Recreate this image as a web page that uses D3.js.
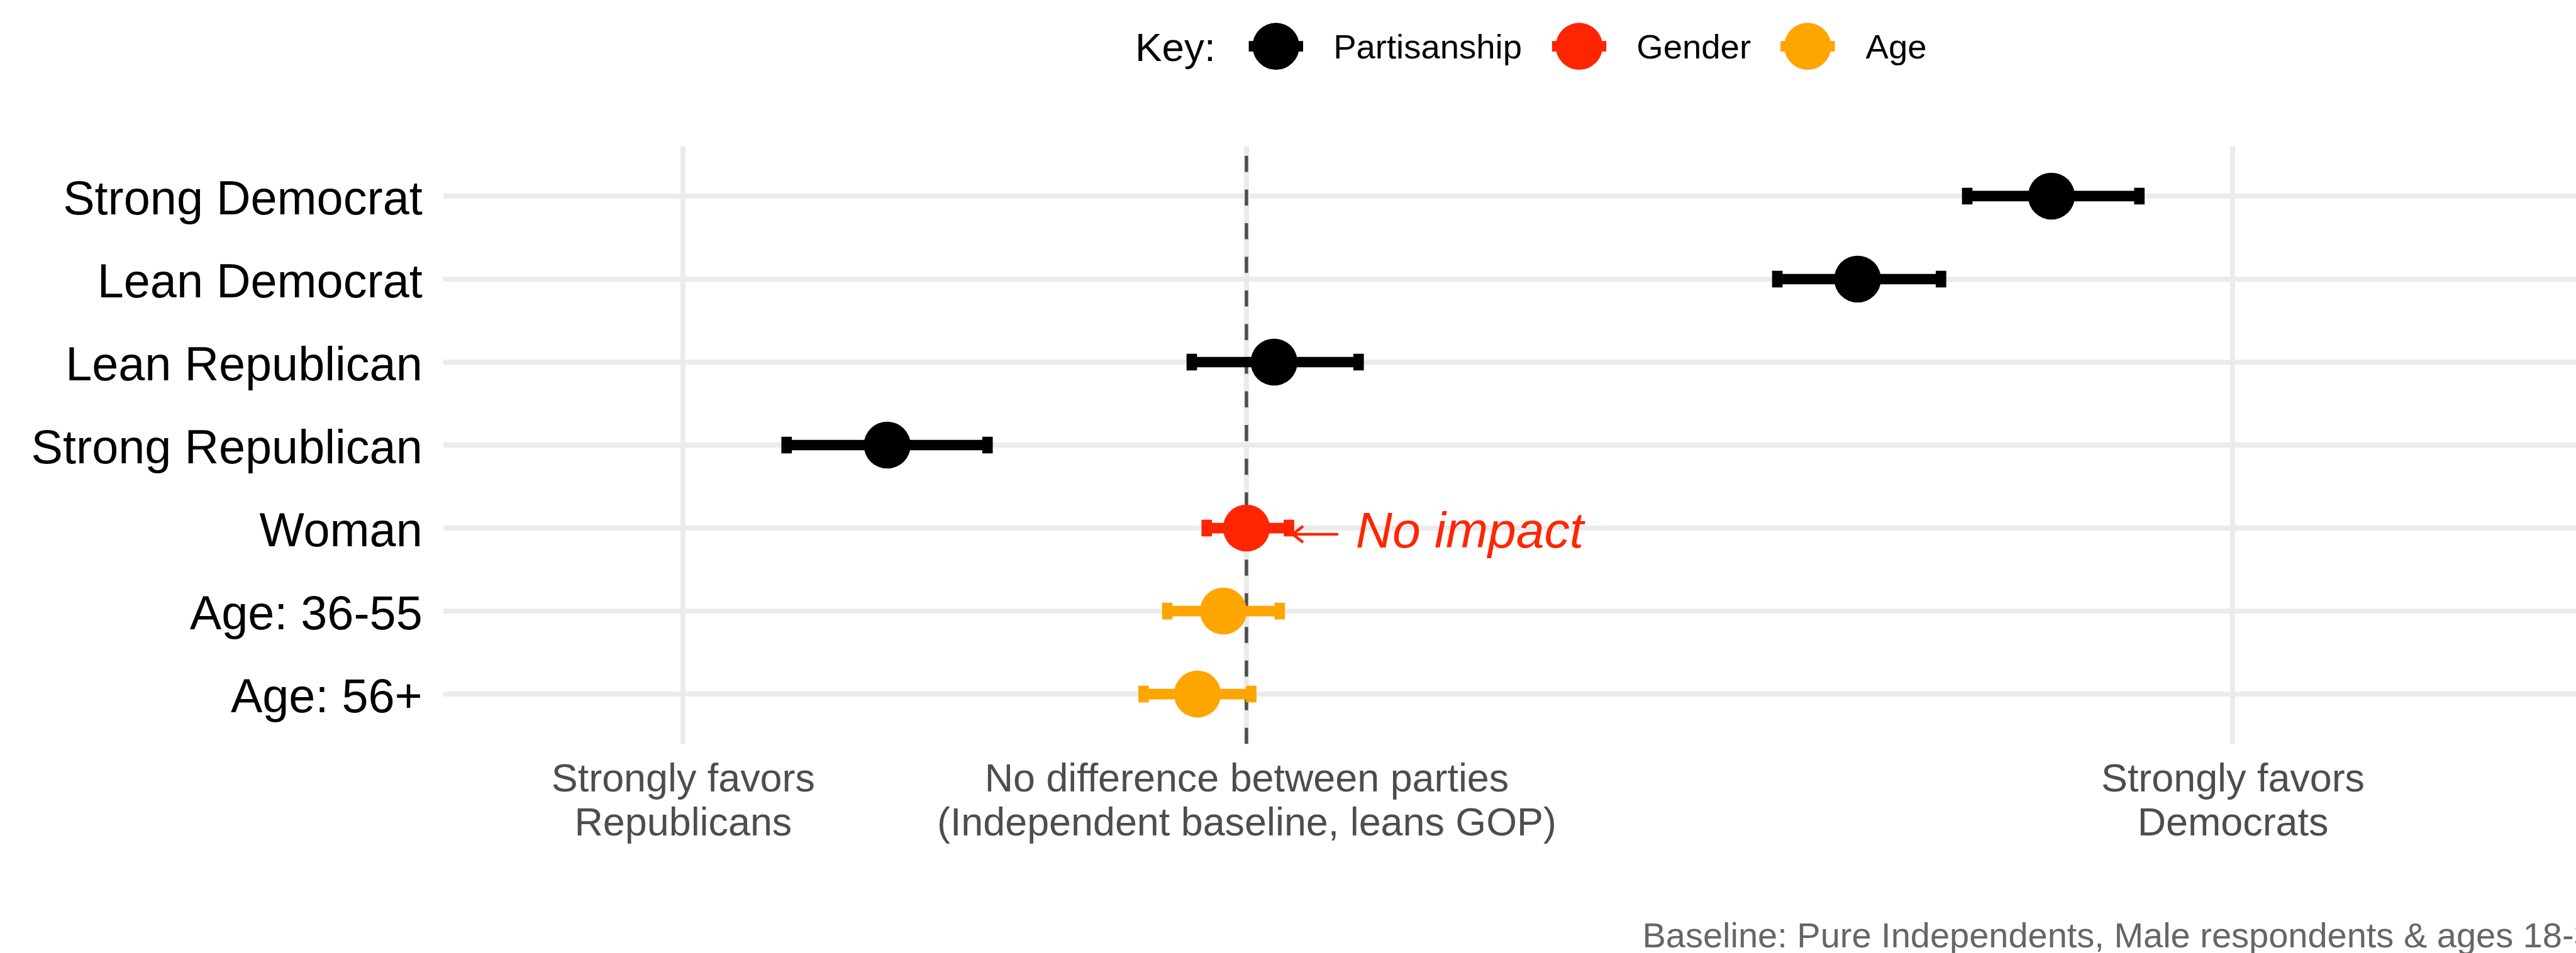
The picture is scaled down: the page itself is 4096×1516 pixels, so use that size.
<!DOCTYPE html>
<html><head><meta charset="utf-8">
<script src="https://cdn.jsdelivr.net/npm/d3@7"></script>
<style>html,body{margin:0;padding:0;background:#fff;overflow:hidden}</style>
</head><body><svg id="chart" width="4096" height="1516"></svg>
<script>
// ---- data ----
const categories = ["Strong Democrat","Lean Democrat","Lean Republican","Strong Republican","Woman","Age: 36-55","Age: 56+"];
const groups = ["Partisanship","Partisanship","Partisanship","Partisanship","Gender","Age","Age"];
const estimates = [2.857, 2.169, 0.098, -1.275, 0.0, -0.082, -0.174];
const lowerCI = [2.558, 1.884, -0.194, -1.632, -0.141, -0.281, -0.365];
const upperCI = [3.169, 2.465, 0.398, -0.919, 0.151, 0.118, 0.017];
const legendKeys = ["Partisanship","Gender","Age"];
const legendColors = ["#000000","#FF2500","#FFA500"];
const xTickValues = [-2, 0, 3.5];
const xTickLabels = [["Strongly favors","Republicans"],["No difference between parties","(Independent baseline, leans GOP)"],["Strongly favors","Democrats"]];
const xLimits = [-2.5, 4.5];
const baselineValue = 0;
const annotationLabels = ["No impact"];
const annotationRows = ["Woman"];
const annotationTextX = [0.388];
const annotationArrowFrom = [0.326];
const annotationArrowTo = [0.164];
const legendTitle = "Key:";
const captionText = "Baseline: Pure Independents, Male respondents & ages 18-35";

// ---- layout (reference pixel units, scaled to window) ----
const S = 0.982;
const FONT = "'Liberation Sans', Arial, Helvetica, sans-serif";
const panel = {left: 718, right: 4231, top: 237, bottom: 1205};
const colorOf = d3.scaleOrdinal().domain(legendKeys).range(legendColors);

const svg = d3.select("#chart");
svg.append("rect").attr("width",4096).attr("height",1516).attr("fill","#fff");
const g = svg.append("g").attr("transform", `scale(${S})`);

const ext = (xLimits[1]-xLimits[0])*0.05;
const x = d3.scaleLinear().domain([xLimits[0]-ext, xLimits[1]+ext]).range([panel.left, panel.right]);
const y = d3.scalePoint().domain(categories).range([panel.top, panel.bottom]).padding(0.6);

const rows = categories.map((c,i)=>({cat:c, group:groups[i], est:estimates[i], lo:lowerCI[i], hi:upperCI[i]}));

// gridlines
g.append("g").selectAll("line").data(categories).join("line")
  .attr("x1", panel.left).attr("x2", panel.right)
  .attr("y1", d=>y(d)).attr("y2", d=>y(d))
  .attr("stroke","#EBEBEB").attr("stroke-width",8);
g.append("g").selectAll("line").data(xTickValues).join("line")
  .attr("x1", d=>x(d)).attr("x2", d=>x(d))
  .attr("y1", panel.top).attr("y2", panel.bottom)
  .attr("stroke","#EBEBEB").attr("stroke-width",8);

// baseline dashed line (drawn bottom to top)
g.append("line")
  .attr("x1", x(baselineValue)).attr("x2", x(baselineValue))
  .attr("y1", panel.bottom).attr("y2", panel.top)
  .attr("stroke","#4D4D4D").attr("stroke-width",5.5)
  .attr("stroke-dasharray","26,28.5");

// error bars
const eb = g.append("g").selectAll("g").data(rows).join("g");
eb.append("line")
  .attr("x1", d=>x(d.lo)).attr("x2", d=>x(d.hi))
  .attr("y1", d=>y(d.cat)).attr("y2", d=>y(d.cat))
  .attr("stroke", d=>colorOf(d.group)).attr("stroke-width",17);
eb.append("line")
  .attr("x1", d=>x(d.lo)).attr("x2", d=>x(d.lo))
  .attr("y1", d=>y(d.cat)-13.5).attr("y2", d=>y(d.cat)+13.5)
  .attr("stroke", d=>colorOf(d.group)).attr("stroke-width",17);
eb.append("line")
  .attr("x1", d=>x(d.hi)).attr("x2", d=>x(d.hi))
  .attr("y1", d=>y(d.cat)-13.5).attr("y2", d=>y(d.cat)+13.5)
  .attr("stroke", d=>colorOf(d.group)).attr("stroke-width",17);

// points
g.append("g").selectAll("circle").data(rows).join("circle")
  .attr("cx", d=>x(d.est)).attr("cy", d=>y(d.cat)).attr("r",38)
  .attr("fill", d=>colorOf(d.group));

// y axis
const yAxis = g.append("g").attr("transform",`translate(${panel.left},0)`)
  .call(d3.axisLeft(y).tickSize(0).tickPadding(34));
yAxis.select(".domain").remove();
yAxis.selectAll("text").attr("font-family",FONT).attr("font-size",77).attr("fill","#000").attr("dy","0.38em");

// x axis
const xAxis = g.append("g").attr("transform",`translate(0,${panel.bottom})`)
  .call(d3.axisBottom(x).tickValues(xTickValues).tickSize(0).tickFormat(""));
xAxis.select(".domain").remove();
xAxis.selectAll(".tick text").each(function(d){
  const i = xTickValues.indexOf(d);
  const t = d3.select(this).attr("dy",null).attr("y",null)
    .attr("font-family",FONT).attr("font-size",64).attr("fill","#4D4D4D").attr("text-anchor","middle");
  xTickLabels[i].forEach((line,k)=>{
    t.append("tspan").attr("x",0).attr("y",77+k*71).text(line);
  });
});

// annotation
annotationLabels.forEach((lab,i)=>{
  const yy = y(annotationRows[i]);
  const col = legendColors[1];
  const ay = yy + 10;
  const x0 = x(annotationArrowFrom[i]), x1 = x(annotationArrowTo[i]);
  g.append("line").attr("x1",x0).attr("x2",x1).attr("y1",ay).attr("y2",ay)
    .attr("stroke",col).attr("stroke-width",4.5);
  g.append("path").attr("d",`M${x1+17},${ay-13}L${x1},${ay}L${x1+17},${ay+13}`)
    .attr("fill","none").attr("stroke",col).attr("stroke-width",4.5);
  g.append("text").attr("x",x(annotationTextX[i])).attr("y",yy+32)
    .attr("font-family",FONT).attr("font-size",82).attr("font-style","italic")
    .attr("fill",col).text(lab);
});

// legend
const legendY = 75;
const keyX = [2066, 2557, 2927];
const labelX = [2159, 2650, 3021];
g.append("text").attr("x",1838).attr("y",legendY).attr("dy","0.36em")
  .attr("font-family",FONT).attr("font-size",65).attr("fill","#000").text(legendTitle);
const lg = g.append("g").selectAll("g").data(legendKeys).join("g");
lg.append("line").attr("x1",(d,i)=>keyX[i]-44).attr("x2",(d,i)=>keyX[i]+44)
  .attr("y1",legendY).attr("y2",legendY).attr("stroke",d=>colorOf(d)).attr("stroke-width",17);
lg.append("circle").attr("cx",(d,i)=>keyX[i]).attr("cy",legendY).attr("r",38).attr("fill",d=>colorOf(d));
lg.append("text").attr("x",(d,i)=>labelX[i]).attr("y",legendY).attr("dy","0.36em")
  .attr("font-family",FONT).attr("font-size",55.5).attr("fill","#000").text(d=>d);

// caption
g.append("text").attr("x",panel.right).attr("y",1535).attr("text-anchor","end")
  .attr("font-family",FONT).attr("font-size",57).attr("fill","#666666").text(captionText);
</script></body></html>
